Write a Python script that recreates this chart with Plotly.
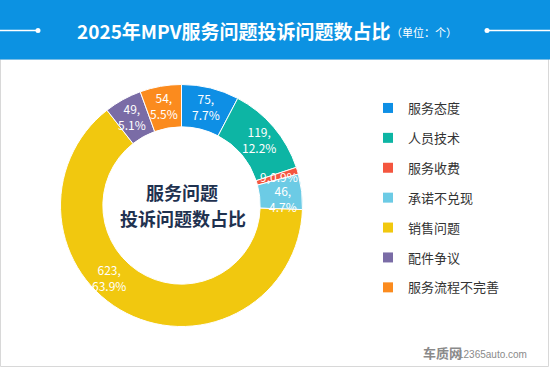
import math
import plotly.graph_objects as go

categories = ["服务态度", "人员技术", "服务收费", "承诺不兑现", "销售问题", "配件争议", "服务流程不完善"]
counts = [75, 119, 9, 46, 623, 49, 54]
pct_labels = ["7.7%", "12.2%", "0.9%", "4.7%", "63.9%", "5.1%", "5.5%"]
colors = ["#0e8fe5", "#0db5a4", "#f4563f", "#6ccbe5", "#f1c80f", "#7a6ca6", "#fb8b1e"]

W, H = 550, 368
def px(x): return x / W
def py(y): return 1 - y / H

# donut geometry (pixels)
cx, cy, R = 181.5, 205.5, 121
LABEL_R = 102
LABEL_ANGLE_SHIFT = {3: 2.5, 4: 18}  # nudges so labels sit as in the original

fig = go.Figure()
fig.add_trace(go.Pie(
    labels=categories, values=counts, textinfo="none",
    hole=0.65, sort=False, direction="clockwise", rotation=0,
    marker=dict(colors=colors, line=dict(color="white", width=1)),
    domain=dict(x=[px(cx - R), px(cx + R)], y=[py(cy + R), py(cy - R)]),
    showlegend=False, hoverinfo="label+value+percent",
))

# legend proxies
for cat, col in zip(categories, colors):
    fig.add_trace(go.Scatter(
        x=[None], y=[None], mode="markers", name=cat, legendgroup=cat,
        marker=dict(symbol="square", size=10, color=col),
    ))

annotations = []
total = sum(counts)
cum = 0
for i, (c, p) in enumerate(zip(counts, pct_labels)):
    mid = (cum + c / 2) / total * 360 + LABEL_ANGLE_SHIFT.get(i, 0)
    cum += c
    a = math.radians(mid)
    lx = cx + LABEL_R * math.sin(a)
    ly = cy - LABEL_R * math.cos(a)
    txt = f"{c},{p}" if c < 20 else f"{c},<br>{p}"
    annotations.append(dict(
        text=txt, x=px(lx), y=py(ly), xanchor="center", yanchor="middle",
        showarrow=False, xref="paper", yref="paper",
        font=dict(family="Noto Sans CJK SC", size=12, color="white")))

shapes = [
    dict(type="rect", xref="paper", yref="paper", x0=px(0.5), x1=px(548.5), y0=py(366.5), y1=py(59),
         line=dict(color="#d8d8d8", width=1), fillcolor="white", layer="below"),
    dict(type="rect", xref="paper", yref="paper", x0=0, x1=1, y0=py(59.5), y1=1,
         line=dict(width=0), fillcolor="#0c92e2", layer="below"),
    dict(type="line", xref="paper", yref="paper", x0=0, x1=px(38), y0=py(30.5), y1=py(30.5),
         line=dict(color="white", width=1.5)),
    dict(type="circle", xref="paper", yref="paper", x0=px(35.5), x1=px(40.5), y0=py(33), y1=py(28),
         line=dict(width=0), fillcolor="white"),
    dict(type="line", xref="paper", yref="paper", x0=px(487), x1=1, y0=py(30.5), y1=py(30.5),
         line=dict(color="white", width=1.5)),
    dict(type="circle", xref="paper", yref="paper", x0=px(484.5), x1=px(489.5), y0=py(33), y1=py(28),
         line=dict(width=0), fillcolor="white"),
]

annotations += [
    dict(text="<b>2025年MPV服务问题投诉问题数占比</b>", x=px(75), y=py(30.5), xanchor="left", yanchor="middle",
         showarrow=False, xref="paper", yref="paper",
         font=dict(family="Noto Sans CJK SC", size=19, color="white")),
    dict(text="（单位：个）", x=px(389), y=py(32), xanchor="left", yanchor="middle",
         showarrow=False, xref="paper", yref="paper",
         font=dict(family="Noto Sans CJK SC", size=11, color="white")),
    dict(text="<b>服务问题</b>", x=px(182), y=py(192), xanchor="center", yanchor="middle",
         showarrow=False, xref="paper", yref="paper",
         font=dict(family="Noto Sans CJK SC", size=18, color="#1f3250")),
    dict(text="<b>投诉问题数占比</b>", x=px(183), y=py(218), xanchor="center", yanchor="middle",
         showarrow=False, xref="paper", yref="paper",
         font=dict(family="Noto Sans CJK SC", size=18, color="#1f3250")),
    dict(text="<b>车质网</b>", x=px(421), y=py(352), xanchor="left", yanchor="middle",
         showarrow=False, xref="paper", yref="paper",
         font=dict(family="Noto Sans CJK SC", size=13, color="#8a8a8a")),
    dict(text="12365auto.com", x=px(456), y=py(354), xanchor="left", yanchor="middle",
         showarrow=False, xref="paper", yref="paper",
         font=dict(family="Liberation Sans", size=10, color="#8a8a8a")),
]

fig.update_layout(
    width=W, height=H, margin=dict(l=0, r=0, t=0, b=0),
    paper_bgcolor="white", plot_bgcolor="white",
    xaxis=dict(visible=False), yaxis=dict(visible=False),
    shapes=shapes, annotations=annotations,
    legend=dict(x=px(368), y=py(93), xanchor="left", yanchor="top",
                font=dict(family="Noto Sans CJK SC", size=13, color="#333333"),
                tracegroupgap=10, bgcolor="rgba(0,0,0,0)", itemclick=False),
    showlegend=True,
)

fig.write_html("out.html", config={"displayModeBar": False},
               post_script="document.body.style.margin='0';document.body.style.overflow='hidden';")
